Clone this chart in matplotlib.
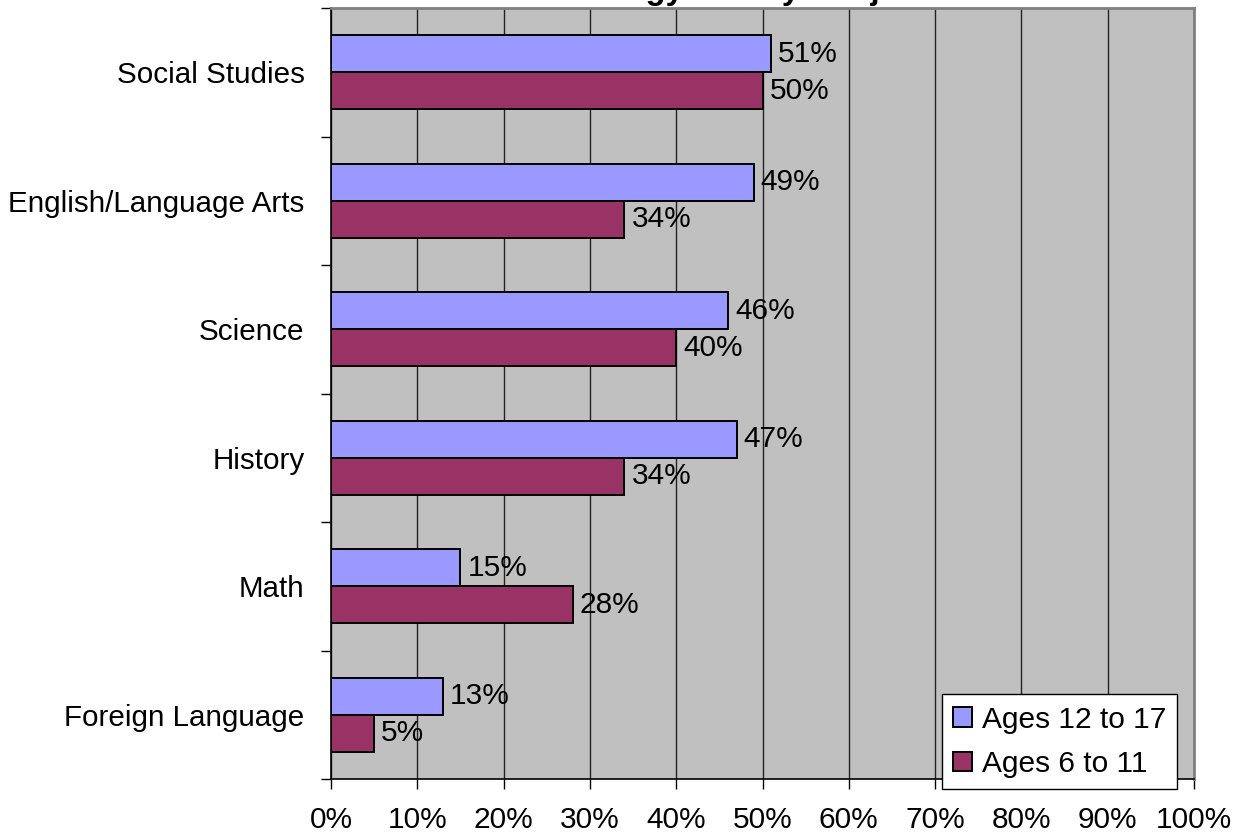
import matplotlib
matplotlib.use("Agg")
import matplotlib.pyplot as plt
import numpy as np

categories = ["Social Studies", "English/Language Arts", "Science", "History", "Math", "Foreign Language"]
ages_12_17 = [51, 49, 46, 47, 15, 13]
ages_6_11 = [50, 34, 40, 34, 28, 5]
xticks = [0, 10, 20, 30, 40, 50, 60, 70, 80, 90, 100]
title = "Technology Use by Subject"

plt.rcParams['font.family'] = ['Liberation Sans', 'DejaVu Sans']

fig = plt.figure(figsize=(12.35, 8.4), dpi=100)
ax = fig.add_axes([331/1235, 1 - 779/840, (1194-331)/1235, (779-8)/840])
ax.set_facecolor('#C0C0C0')

n = len(categories)
y = np.arange(n)
h = 0.288
b1 = ax.barh(y - h/2, ages_12_17, height=h, color='#9999FF', edgecolor='black', linewidth=1.4,
             label='Ages 12 to 17', zorder=3)
b2 = ax.barh(y + h/2, ages_6_11, height=h, color='#993366', edgecolor='black', linewidth=1.4,
             label='Ages 6 to 11', zorder=3)

for bars, vals in ((b1, ages_12_17), (b2, ages_6_11)):
    for rect, v in zip(bars, vals):
        ax.annotate(f"{v}%", (v, rect.get_y() + rect.get_height()/2), xytext=(5, 0),
                    textcoords='offset points', va='center', ha='left', fontsize=21.5, zorder=4)

ax.set_xlim(0, 100)
ax.set_ylim(n - 0.5, -0.5)
ax.set_xticks(xticks)
ax.set_xticklabels([f"{t}%" for t in xticks], fontsize=21.5)
ax.set_yticks(y)
ax.set_yticklabels(categories, fontsize=21.3)
ax.set_yticks(np.arange(-0.5, n, 1.0), minor=True)
ax.tick_params(axis='y', which='major', length=0, pad=19)
ax.tick_params(axis='y', which='minor', length=7.5, width=1, direction='out')
ax.tick_params(axis='x', which='major', length=7.5, width=1, direction='out', pad=12)

ax.grid(axis='x', color='#222222', linewidth=1, zorder=1)
ax.set_axisbelow(True)
for s in ('top', 'right'):
    ax.spines[s].set_color('#808080')
    ax.spines[s].set_linewidth(2)
for s in ('left', 'bottom'):
    ax.spines[s].set_color('black')
    ax.spines[s].set_linewidth(1.2)

fig.text(503/1235, 1 + 1/840, title, fontsize=23.5, fontweight='bold', ha='left', va='baseline')

leg = fig.legend(handles=[b1, b2], loc='lower left', bbox_to_anchor=(942/1235, 1 - 789/840),
                 fontsize=21.5, frameon=True, fancybox=False, framealpha=1, edgecolor='black',
                 handlelength=0.62, handleheight=0.62, handletextpad=0.35, borderpad=0.37,
                 labelspacing=0.55, borderaxespad=0)
leg.get_frame().set_linewidth(1)

fig.savefig("out.png", dpi=100)
